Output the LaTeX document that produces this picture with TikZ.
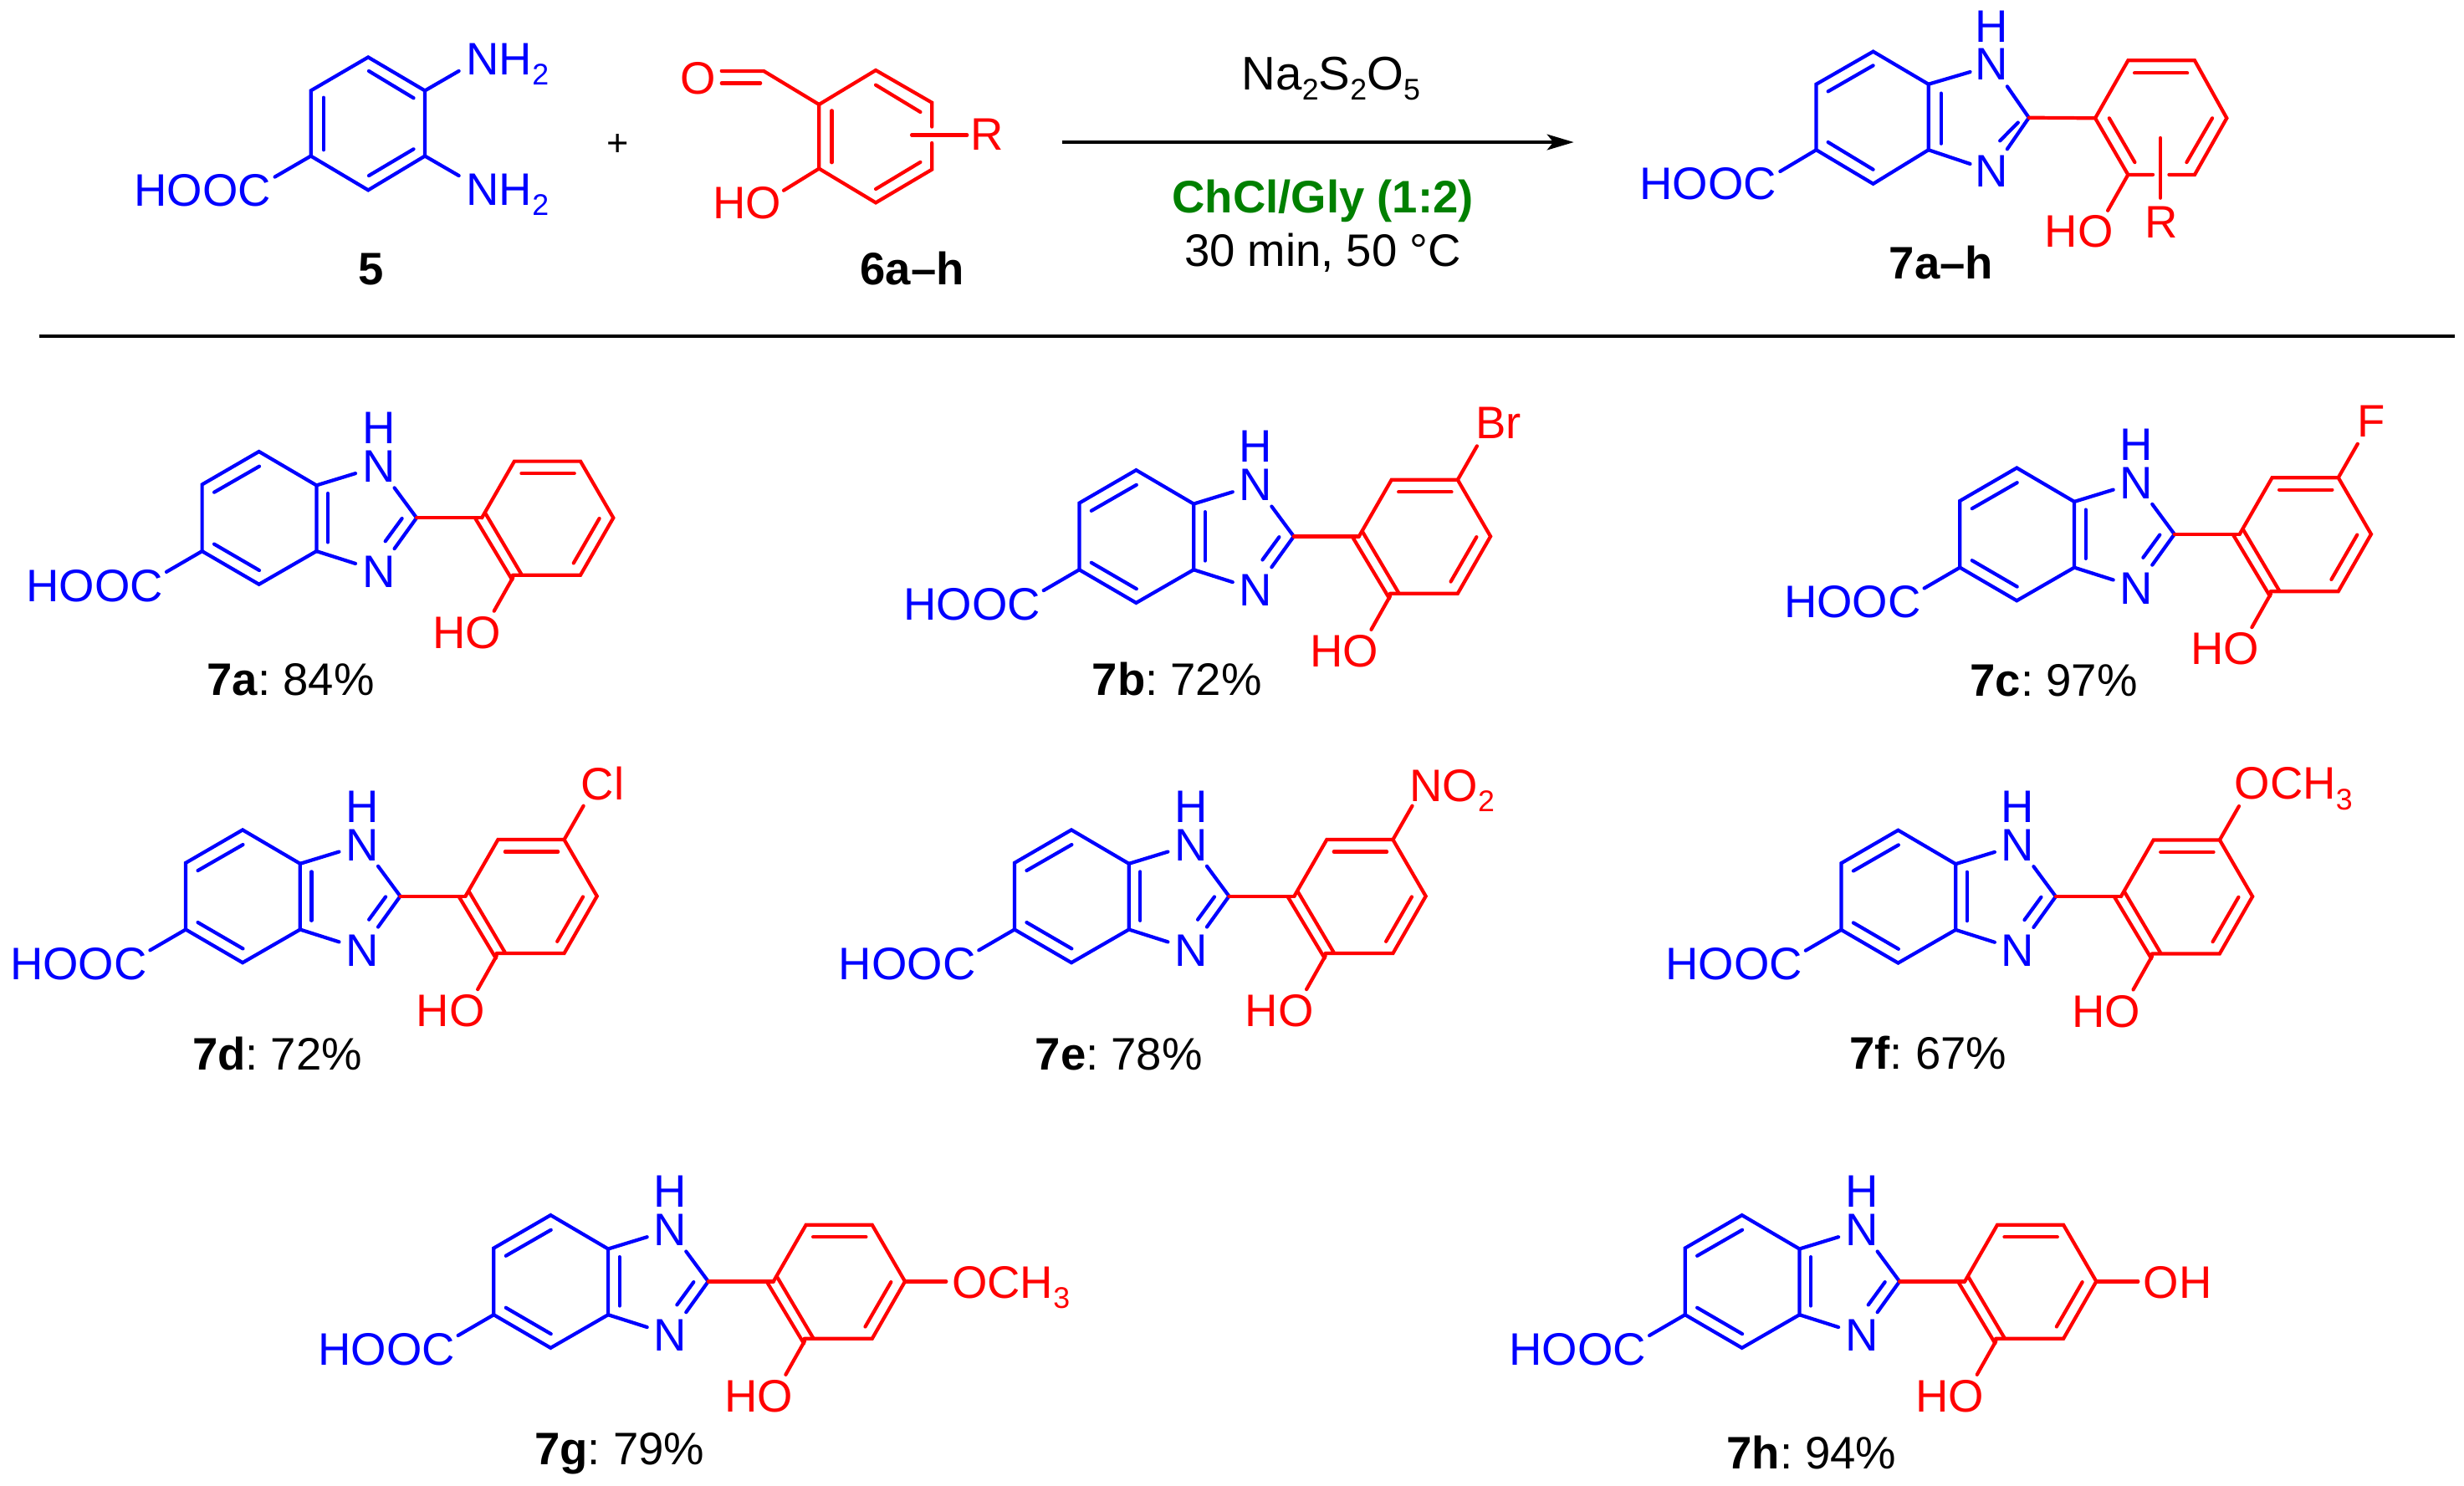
\documentclass[tikz,border=0pt]{standalone}
\usepackage{fontspec}
\setmainfont{Liberation Sans}
\usetikzlibrary{arrows.meta}
\definecolor{cblue}{RGB}{0,0,255}
\definecolor{cred}{RGB}{255,0,0}
\definecolor{cgreen}{RGB}{0,128,0}
\newcommand{\chemf}{\fontsize{29}{31}\selectfont\frenchspacing}
\newcommand{\subt}[1]{\raisebox{-6.5pt}{\fontsize{19}{19}\selectfont #1}}
\tikzset{
  bb/.style={draw=cblue,line width=2.25pt,line join=miter,line cap=round},
  rb/.style={draw=cred,line width=2.25pt,line join=miter,line cap=round},
  lab/.style={inner sep=0pt,outer sep=0pt,font=\chemf,anchor=base,text=black},
  blueatom/.style={inner sep=0pt,outer sep=0pt,font=\chemf,anchor=base,text=cblue},
  redatom/.style={inner sep=0pt,outer sep=0pt,font=\chemf,anchor=base,text=cred},
  bluegroup/.style={inner sep=0pt,outer sep=0pt,font=\chemf,anchor=base west,text=cblue},
  redgroup/.style={inner sep=0pt,outer sep=0pt,font=\chemf,anchor=base west,text=cred},
}
% Benzimidazolyl phenol template (coordinates are those of 7a)
\newcommand{\corecpd}[3]{%
\begin{scope}[shift={(#2,#3)}]
  \coordinate (#1r1) at (164.8,287.4);
  \coordinate (#1r2) at (128.6,308.4);
  \coordinate (#1r3) at (128.6,350.8);
  \coordinate (#1r4) at (164.8,371.9);
  \coordinate (#1r5) at (201.4,350.8);
  \coordinate (#1r6) at (201.4,308.9);
  \coordinate (#1c2) at (265.1,329.6);
  \coordinate (#1p1) at (306.6,329.6);
  \coordinate (#1p2) at (327.3,293.6);
  \coordinate (#1p3) at (369.4,293.6);
  \coordinate (#1p4) at (390.3,329.6);
  \coordinate (#1p5) at (369.4,366);
  \coordinate (#1p6) at (326.3,366);
  \coordinate (#1n1e) at (226.2,301.3);
  \coordinate (#1n1s) at (251,310.5);
  \coordinate (#1n3e) at (226.2,358.7);
  \coordinate (#1n3s) at (251,349.2);
  \coordinate (#1ac) at (105.9,364);
  \coordinate (#1hos) at (326.4,367.6);
  \coordinate (#1ho) at (314.4,388.9);
  \draw[bb] (#1r1)--(#1r2)--(#1r3)--(#1r4)--(#1r5)--(#1r6)--cycle;
  \draw[bb] (165,296.8)--(136.3,313.3);
  \draw[bb] (136.3,346.3)--(165,363);
  \draw[bb] (208.6,314)--(208.6,345.1);
  \draw[bb] (#1r6)--(#1n1e);
  \draw[bb] (#1r5)--(#1n3e);
  \draw[bb] (#1n1s)--(#1c2)--(#1n3s);
  \draw[bb] (255.8,330)--(245.2,344.5);
  \draw[bb] (#1r3)--(#1ac);
  \draw[rb] (#1c2)--(#1p1);
  \draw[rb] (#1p1)--(#1p2)--(#1p3)--(#1p4)--(#1p5)--(#1p6);
  \draw[rb] (331.8,301.3)--(365.5,301.3);
  \draw[rb] (381.4,330)--(365,358.4);
  \draw[rb] (302.5,330)--(325.9,369);
  \draw[rb] (308.7,326.4)--(331.8,365.5);
  \draw[rb] (#1hos)--(#1ho);
  \node[blueatom] (#1H) at (241,282.5) {H};
  \node[blueatom] (#1N) at (241,306.9) {N};
  \node[blueatom] (#1Nb) at (241,374) {N};
  \node[bluegroup] (#1acid) at (16.8,382.7) {HOOC};
  \node[redgroup] (#1OH) at (275.4,412.7) {HO};
\end{scope}}
\newcommand{\upsub}[3]{% name, dx, dy : bond from the para vertex up to the substituent
\begin{scope}[shift={(#2,#3)}]
  \coordinate (#1x) at (381.7,272.1);
  \draw[rb] (#1p3)--(#1x);
\end{scope}}
\begin{document}
\begin{tikzpicture}[x=1pt,y=-1pt]
\useasboundingbox (0,0) rectangle (1568,945.3);
% ---------- compound 5
\coordinate (a1) at (234.3,36.4);
\coordinate (a2) at (270.4,57.7);
\coordinate (a3) at (270.4,99.3);
\coordinate (a4) at (234.3,121);
\coordinate (a5) at (197.8,99.3);
\coordinate (a6) at (197.8,57.7);
\coordinate (an1) at (292,45.2);
\coordinate (an2) at (292,111.8);
\coordinate (aac) at (174.9,112.6);
\draw[bb] (a1)--(a2)--(a3)--(a4)--(a5)--(a6)--cycle;
\draw[bb] (234.7,45.2)--(263.2,62.4);
\draw[bb] (205.9,62.1)--(205.9,95.4);
\draw[bb] (234.7,111.8)--(263.2,94.9);
\draw[bb] (a2)--(an1);
\draw[bb] (a3)--(an2);
\draw[bb] (a5)--(aac);
\node[bluegroup] (nh1) at (296.8,47.5) {NH\subt{2}};
\node[bluegroup] (nh2) at (296.8,130.4) {NH\subt{2}};
\node[bluegroup] (aacid) at (85.4,131.3) {HOOC};
\node[lab,font=\chemf\bfseries] (l5) at (236,181) {5};
% plus
\node[lab,font=\fontsize{24}{26}\selectfont] (plus) at (393,99.5) {+};
% ---------- compound 6
\coordinate (b1) at (521.2,66.5);
\coordinate (b2) at (557.3,44.7);
\coordinate (b3) at (593,65.3);
\coordinate (b3a) at (593,80.7);
\coordinate (b4a) at (593,91);
\coordinate (b4) at (593,107.9);
\coordinate (b5) at (557.3,129);
\coordinate (b6) at (521.2,107.3);
\coordinate (bc) at (486,45.2);
\coordinate (bo1) at (459.2,45.2);
\coordinate (bo2a) at (483.9,52.9);
\coordinate (bo2) at (459.2,52.9);
\coordinate (bh) at (498.7,121.2);
\coordinate (brs) at (580.2,85.9);
\coordinate (bre) at (615.4,85.9);
\draw[rb] (b3a)--(b3)--(b2)--(b1)--(b6)--(b5)--(b4)--(b4a);
\draw[rb] (557.3,54.1)--(585.7,71.3);
\draw[rb] (557.3,120.3)--(585.7,103.2);
\draw[rb] (529.3,70.4)--(529.3,103.4);
\draw[rb] (b1)--(bc)--(bo1);
\draw[rb] (bo2a)--(bo2);
\draw[rb] (b6)--(bh);
\draw[rb] (brs)--(bre);
\node[redatom] (bO) at (444.2,60) {O};
\node[redgroup] (bOH) at (453.8,139.3) {HO};
\node[redgroup] (bR) at (617.8,95.8) {R};
\node[lab,font=\chemf\bfseries] (l6) at (580.5,181) {6a–h};
% ---------- reaction arrow and conditions
\coordinate (arrS) at (675.7,90.5);
\coordinate (arrE) at (1001.5,90.5);
\draw[line width=2pt,-{Stealth[length=17pt,width=10pt,inset=4pt]}] (arrS)--(arrE);
\node[lab,font=\fontsize{30}{32}\selectfont] (cond1) at (847,57) {Na\subt{2}S\subt{2}O\subt{5}};
\node[lab,text=cgreen,font=\chemf\bfseries] (cond2) at (841.8,135.7) {ChCl/Gly (1:2)};
\node[lab] (cond3) at (841.7,169.4) {30 min, 50 °C};
% ---------- product 7a-h (general)
\coordinate (c1) at (1192,32.8);
\coordinate (c2) at (1155.8,53.6);
\coordinate (c3) at (1155.8,95.4);
\coordinate (c4) at (1192,117);
\coordinate (c5) at (1227.2,95.4);
\coordinate (c6) at (1227.2,53.6);
\coordinate (cc2) at (1291.1,74.9);
\coordinate (cn1e) at (1253.7,45.8);
\coordinate (cn1s) at (1277.3,55);
\coordinate (cn3e) at (1253.7,104.3);
\coordinate (cn3s) at (1277.3,94.9);
\coordinate (cp1) at (1333.3,75.2);
\coordinate (cp2) at (1354.2,38.5);
\coordinate (cp3) at (1396.6,38.5);
\coordinate (cp4) at (1417,75.2);
\coordinate (cp5) at (1396.6,111.2);
\coordinate (cp5a) at (1380.3,111.2);
\coordinate (cp6a) at (1370,111.2);
\coordinate (cp6) at (1354.2,111.2);
\coordinate (cho) at (1341.3,134);
\coordinate (cac) at (1132.8,109.1);
\coordinate (cRs) at (1374.8,87.8);
\coordinate (cRe) at (1374.8,126);
\draw[bb] (c1)--(c2)--(c3)--(c4)--(c5)--(c6)--cycle;
\draw[bb] (1192,41.7)--(1163.3,58.2);
\draw[bb] (1163.3,90.5)--(1192,107.9);
\draw[bb] (1235.2,59.4)--(1235.2,91.4);
\draw[bb] (c6)--(cn1e);
\draw[bb] (c5)--(cn3e);
\draw[bb] (cn1s)--(cc2)--(cn3s);
\draw[bb] (1284.2,78)--(1272.7,89.6);
\draw[bb] (c3)--(cac);
\draw[rb] (cc2)--(cp1);
\draw[rb] (cp6a)--(cp6)--(cp1)--(cp2)--(cp3)--(cp4)--(cp5)--(cp5a);
\draw[rb] (1358.3,46.5)--(1391.9,46.5);
\draw[rb] (1342.2,75.2)--(1358.5,103.3);
\draw[rb] (1407.8,75.2)--(1391.5,103.3);
\draw[rb] (cp6)--(cho);
\draw[rb] (cRs)--(cRe);
\node[blueatom] (cH) at (1267.6,26.9) {H};
\node[blueatom] (cN) at (1267.6,50.8) {N};
\node[blueatom] (cNb) at (1267.6,119.1) {N};
\node[bluegroup] (cacid) at (1043.5,127) {HOOC};
\node[redgroup] (cOH) at (1301.2,157.4) {HO};
\node[redgroup] (cR) at (1364.7,151.3) {R};
\node[lab,font=\chemf\bfseries] (l7) at (1235.3,177.6) {7a–h};
% separator
\coordinate (ruleL) at (25,213.8);
\coordinate (ruleR) at (1562,213.8);
\draw[line width=2pt] (ruleL)--(ruleR);
% ---------- products
\corecpd{A}{0}{0}
\node[lab] (lA) at (185,442.6) {\textbf{7a}: 84\%};
\corecpd{B}{558.2}{11.8}
\upsub{B}{558.2}{11.8}
\node[redgroup] (Bsub) at (939,279.4) {Br};
\node[lab] (lB) at (749,442.6) {\textbf{7b}: 72\%};
\corecpd{C}{1118.6}{10.4}
\upsub{C}{1118.6}{10.4}
\node[redgroup] (Csub) at (1499.9,278.2) {F};
\node[lab] (lC) at (1307,443) {\textbf{7c}: 97\%};
\corecpd{D}{-10.4}{240.8}
\upsub{D}{-10.4}{240.8}
\node[redgroup] (Dsub) at (369.9,509.2) {Cl};
\node[lab] (lD) at (176.5,681) {\textbf{7d}: 72\%};
\corecpd{E}{517}{240.8}
\upsub{E}{517}{240.8}
\node[redgroup] (Esub) at (897,510) {NO\subt{2}};
\node[lab] (lE) at (712,681) {\textbf{7e}: 78\%};
\corecpd{F}{1043.1}{241}
\upsub{F}{1043.1}{241}
\node[redgroup] (Fsub) at (1422,508.8) {OCH\subt{3}};
\node[lab] (lF) at (1227,680.5) {\textbf{7f}: 67\%};
\corecpd{G}{185.6}{486}
\coordinate (Gx) at (602.1,815.6);
\draw[rb] (Gp4)--(Gx);
\node[redgroup] (Gsub) at (605.8,826.4) {OCH\subt{3}};
\node[lab] (lG) at (394.3,932.3) {\textbf{7g}: 79\%};
\corecpd{H}{943.7}{486}
\coordinate (Hx) at (1360.6,815.6);
\draw[rb] (Hp4)--(Hx);
\node[redgroup] (Hsub) at (1364,826.4) {OH};
\node[lab] (lH) at (1152.8,935) {\textbf{7h}: 94\%};
\end{tikzpicture}
\end{document}
